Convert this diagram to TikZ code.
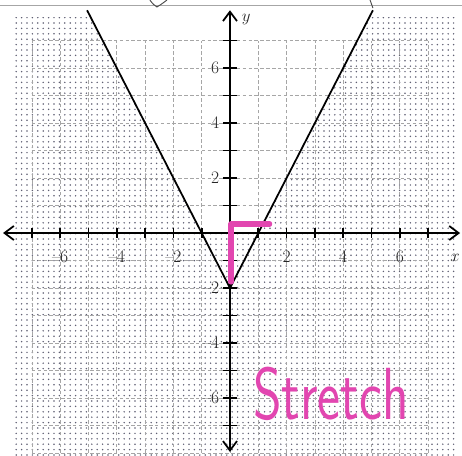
\documentclass[tikz,border=0pt]{standalone}
\usepackage{tikz}
\usetikzlibrary{arrows.meta,patterns.meta}
\definecolor{marker}{RGB}{226,70,176}
\definecolor{dotcol}{RGB}{95,95,115}

\begin{document}
\begin{tikzpicture}[x=0.849cm, y=0.825cm,
  axis/.style={line width=1.5pt, {Straight Barb[length=8pt,width=12pt]}-{Straight Barb[length=8pt,width=12pt]}},
  gridline/.style={gray!70, densely dashed, line width=0.6pt},
  tickmark/.style={line width=1.5pt},
  num/.style={font=\fontsize{15}{15}\selectfont, inner sep=1pt, text=black!85},
  graph/.style={line width=1.5pt},
  pen/.style={marker, line width=4.5pt, line cap=round, line join=round}
]
\useasboundingbox (-8.127,-8.073) rectangle (8.198,8.473);

% 網点
\fill[pattern={Dots[radius=0.7pt, distance=0.162cm]}, pattern color=dotcol] (-7.7,-8.073) rectangle (8.05,7.85);
\fill[white] (-1,0) -- (-4.93,7.85) -- (4.93,7.85) -- (1,0) -- cycle;

% 上の線
\coordinate (sl) at (-8.127,8.29);
\coordinate (sr) at (8.198,8.29);
\draw[gray!70, line width=0.6pt] (sl) -- (sr);
\draw[black!70, line width=0.8pt] (-2.83,8.47) .. controls (-2.7,8.3) .. (-2.58,8.22) .. controls (-2.45,8.3) .. (-2.23,8.47);
\draw[black!70, line width=0.8pt] (4.95,8.47) -- (5.05,8.18);

% 格子
\foreach \i in {-7,...,7} \draw[gridline] (\i,-8) -- (\i,7);
\foreach \j in {-8,...,7} \draw[gridline] (-7,\j) -- (7,\j);

% 軸
\coordinate (xl) at (-8.02,0);
\coordinate (xr) at (8.13,0);
\coordinate (yb) at (0,-7.96);
\coordinate (yt) at (0,8.1);
\draw[axis] (xl) -- (xr);
\draw[axis] (yb) -- (yt);
\foreach \i in {-7,...,-1,1,2,...,7} \draw[tickmark] (\i,-0.18) -- (\i,0.18);
\foreach \j in {-7,...,-1,1,2,...,7} \draw[tickmark] (-0.23,\j) -- (0.23,\j);

% 目盛り
\foreach \i/\t in {-6/\textendash6,-4/\textendash4,-2/\textendash2,2/2,4/4,6/6}
  \node[num] (xn\i) at (\i,-0.87) {\t};
\foreach \j/\t in {-6/\textendash6,-4/\textendash4,-2/\textendash2,2/2,4/4,6/6}
  \node[num, anchor=east] (yn\j) at (-0.33,\j) {\t};
\node[num] (xlab) at (7.95,-0.91) {$x$};
\node[num] (ylab) at (0.57,7.75) {$y$};

% グラフ
\coordinate (vl) at (-5.05,8.1);
\coordinate (v0) at (0,-2);
\coordinate (vr) at (5.05,8.1);
\draw[graph] (vl) -- (v0) -- (vr);

% 書き込み
\coordinate (p1) at (0.04,-1.78);
\coordinate (p2) at (0.04,0.33);
\coordinate (p3) at (1.4,0.33);
\draw[pen] (p1) -- (p2) -- (p3);
\node[text=marker, font=\sffamily\fontsize{60}{60}\selectfont, xscale=0.78, yscale=1.05] (stretch) at (3.57,-5.85) {Stretch};

\end{tikzpicture}
\end{document}
